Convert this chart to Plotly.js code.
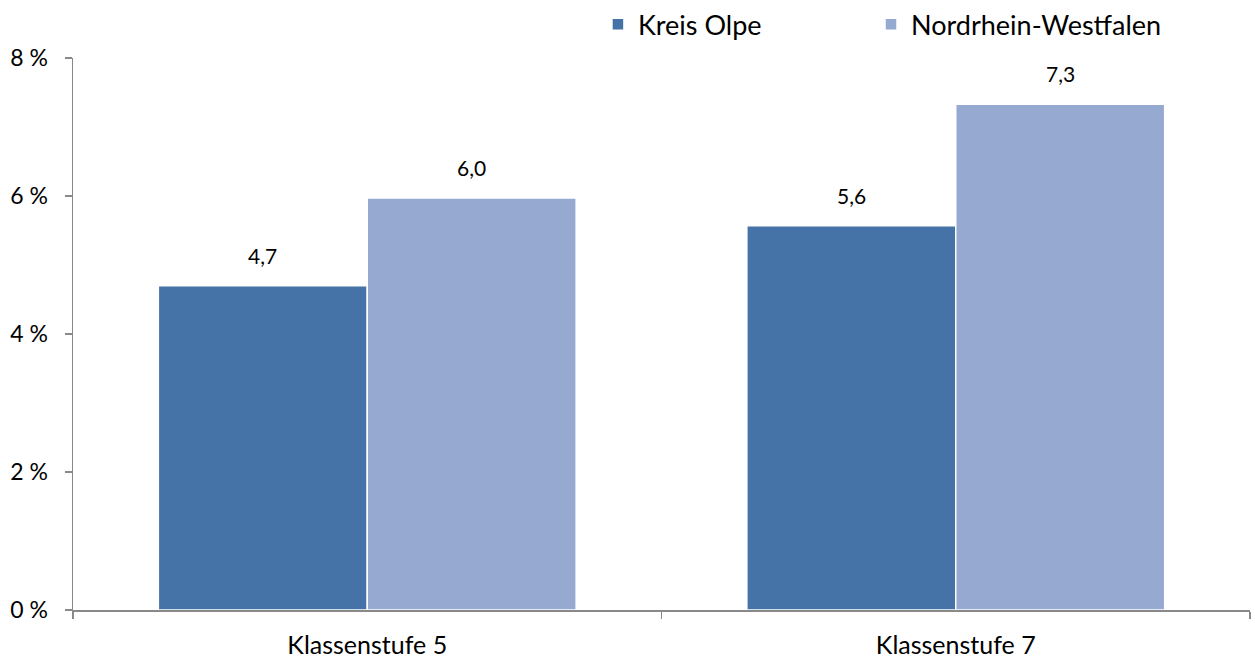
<!DOCTYPE html>
<html>
<head>
<meta charset="utf-8">
<script src="https://cdn.plot.ly/plotly-3.0.1.min.js"></script>
<style>
html,body{margin:0;padding:0;background:#fff;}
#chart{width:1255px;height:657px;}
</style>
</head>
<body>
<div id="chart"></div>
<script>
var categories = ["Klassenstufe 5", "Klassenstufe 7"];
var seriesNames = ["Kreis Olpe", "Nordrhein-Westfalen"];
var kreisOlpe = [4.70, 5.57];
var nrw = [5.97, 7.33];
var yTickVals = [0, 2, 4, 6, 8];
var yTickText = ["0 %", "2 %", "4 %", "6 %", "8 %"];
var colors = ["#4673A7", "#95A9D1"];

var font = "Lato, 'Open Sans', sans-serif";
var bargap = 0.29;
var seriesList = [kreisOlpe, nrw];
var legendIds = ["legend", "legend2"];

function fmt(v) { return v.toFixed(1).replace(".", ","); }

var traces = seriesList.map(function (vals, i) {
  return {
    type: "bar",
    name: seriesNames[i],
    legend: legendIds[i],
    x: categories,
    y: vals,
    marker: {color: colors[i], line: {color: "#ffffff", width: 1.5}},
    hoverinfo: "none"
  };
});

// value labels placed above each bar (bar centre derived from bargap and series count)
var barW = (1 - bargap) / seriesList.length;
var annotations = [];
seriesList.forEach(function (vals, s) {
  vals.forEach(function (v, c) {
    annotations.push({
      xref: "x", yref: "y",
      x: c - (1 - bargap) / 2 + barW * (s + 0.5),
      y: v,
      text: fmt(v),
      showarrow: false,
      xanchor: "center", yanchor: "bottom",
      yshift: 16,
      font: {family: font, size: 21, color: "#000"}
    });
  });
});

var legendBase = {
  orientation: "h",
  xanchor: "left",
  y: 1.016, yanchor: "bottom",
  font: {family: font, size: 27, color: "#000"},
  bgcolor: "rgba(0,0,0,0)"
};

var layout = {
  width: 1255,
  height: 657,
  margin: {l: 73, r: 5, t: 58, b: 47, autoexpand: false},
  paper_bgcolor: "#fff",
  plot_bgcolor: "#fff",
  barmode: "group",
  bargap: bargap,
  bargroupgap: 0,
  font: {family: font, color: "#000"},
  showlegend: true,
  annotations: annotations,
  legend: Object.assign({}, legendBase, {x: 0.446}),
  legend2: Object.assign({}, legendBase, {x: 0.678}),
  xaxis: {
    type: "category",
    showline: true,
    linecolor: "#898989",
    linewidth: 1.5,
    ticks: "outside",
    tickson: "boundaries",
    ticklen: 7,
    tickcolor: "#898989",
    tickwidth: 1.5,
    ticklabelstandoff: 12,
    showgrid: false,
    tickfont: {family: font, size: 25, color: "#000"},
    fixedrange: true
  },
  yaxis: {
    range: [0, 8],
    tickvals: yTickVals,
    ticktext: yTickText,
    showline: true,
    linecolor: "#898989",
    linewidth: 1.5,
    ticks: "outside",
    ticklen: 7,
    tickcolor: "#898989",
    tickwidth: 1.5,
    ticklabelstandoff: 12,
    showgrid: false,
    zeroline: false,
    tickfont: {family: font, size: 23, color: "#000"},
    fixedrange: true
  }
};

Plotly.newPlot("chart", traces, layout, {displayModeBar: false, staticPlot: true});
</script>
</body>
</html>
